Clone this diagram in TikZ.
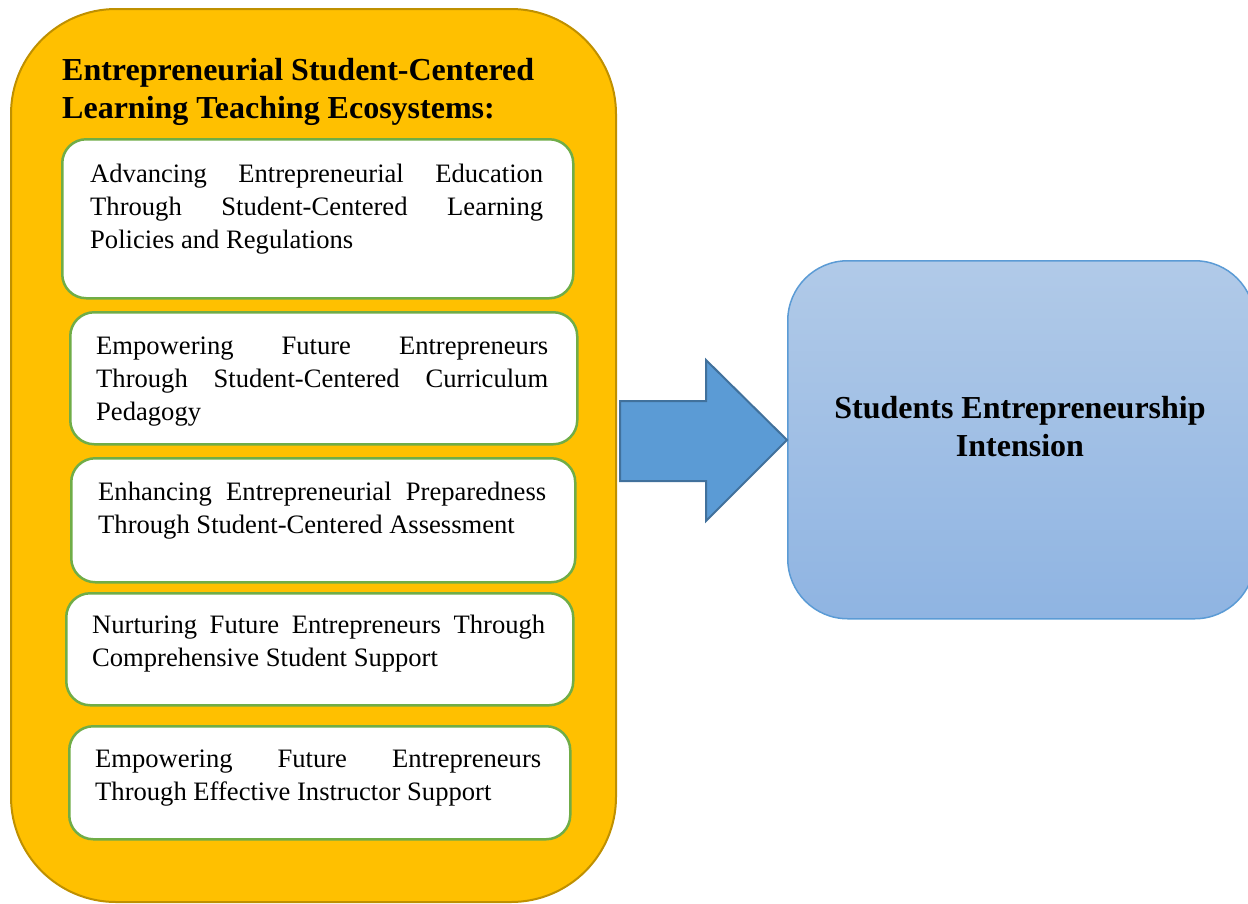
\documentclass[tikz,border=0pt]{standalone}
\usepackage{fontspec}
\setmainfont{Liberation Serif}
\definecolor{gold}{HTML}{FFC000}
\definecolor{goldedge}{HTML}{BF9000}
\definecolor{leaf}{HTML}{70AD47}
\definecolor{skytop}{HTML}{B1CAE8}
\definecolor{skybot}{HTML}{8FB4E2}
\definecolor{skyedge}{HTML}{5B9BD5}
\definecolor{arrowfill}{HTML}{5B9BD5}
\definecolor{arrowedge}{HTML}{41719C}
% one justified line of a card, stretched to the full card width
\newcommand\jline[1]{\makebox[\linewidth][s]{#1}\par}
\newcommand\fline[1]{#1\par}
\tikzset{
  panel/.style={draw=goldedge, line width=2pt, fill=gold, rounded corners=105pt,
    anchor=north west, inner sep=0pt},
  card/.style={draw=leaf, line width=2.5pt, fill=white, rounded corners=24pt,
    anchor=north west, inner sep=0pt},
  cardtext/.style={anchor=base west, inner sep=0pt, font=\fontsize{26.6}{33}\selectfont},
  headtext/.style={anchor=base west, inner sep=0pt, font=\fontsize{32}{38}\selectfont\bfseries},
  goal/.style={draw=skyedge, line width=1.5pt, top color=skytop, bottom color=skybot,
    rounded corners=60pt, anchor=north west, inner sep=0pt},
  goaltext/.style={anchor=base, inner sep=0pt, font=\fontsize{32}{38}\selectfont\bfseries},
  blockarrow/.style={draw=arrowedge, line width=2pt, fill=arrowfill, line join=miter}
}
\begin{document}
\begin{tikzpicture}[x=1pt, y=-1pt]
\useasboundingbox (0,0) rectangle (1248,903);

% outer ecosystem panel
\node[panel, minimum width=605pt, minimum height=893pt] (eco) at (10,8) {};
\node[headtext] (ecotitle) at (62,80) {\parbox[t]{500pt}{\raggedright
  Entrepreneurial Student-Centered\\ Learning Teaching Ecosystems:}};

% cards
\node[card, minimum width=511pt, minimum height=159pt] (c1) at (61,138) {};
\node[cardtext] (t1) at (90,182) {\parbox[t]{453pt}{\parindent0pt
  \jline{Advancing Entrepreneurial Education}
  \jline{Through Student-Centered Learning}
  \fline{Policies and Regulations}}};

\node[card, minimum width=507pt, minimum height=132pt] (c2) at (69,311) {};
\node[cardtext] (t2) at (96,354) {\parbox[t]{452pt}{\parindent0pt
  \jline{Empowering Future Entrepreneurs}
  \jline{Through Student-Centered Curriculum}
  \fline{Pedagogy}}};

\node[card, minimum width=504pt, minimum height=124pt] (c3) at (70,457) {};
\node[cardtext] (t3) at (98,500) {\parbox[t]{448pt}{\parindent0pt
  \jline{Enhancing Entrepreneurial Preparedness}
  \fline{Through Student-Centered Assessment}}};

\node[card, minimum width=507pt, minimum height=112pt] (c4) at (65,592) {};
\node[cardtext] (t4) at (92,633) {\parbox[t]{453pt}{\parindent0pt
  \jline{Nurturing Future Entrepreneurs Through}
  \fline{Comprehensive Student Support}}};

\node[card, minimum width=501pt, minimum height=113pt] (c5) at (68,725) {};
\node[cardtext] (t5) at (95,767) {\parbox[t]{446pt}{\parindent0pt
  \jline{Empowering Future Entrepreneurs}
  \fline{Through Effective Instructor Support}}};

% outcome box
\node[goal, minimum width=467pt, minimum height=358pt] (goal) at (787,260) {};
\node[goaltext] (goaltitle) at (1020,418) {\parbox[t]{420pt}{\centering
  Students Entrepreneurship\\ Intension}};

% block arrow from the panel to the outcome box
\coordinate (tip) at (goal.west |- 0,440);
\draw[blockarrow] (620,401) -- (706,401) -- (706,360) -- (tip)
  -- (706,521) -- (706,481) -- (620,481) -- cycle;
\end{tikzpicture}
\end{document}
